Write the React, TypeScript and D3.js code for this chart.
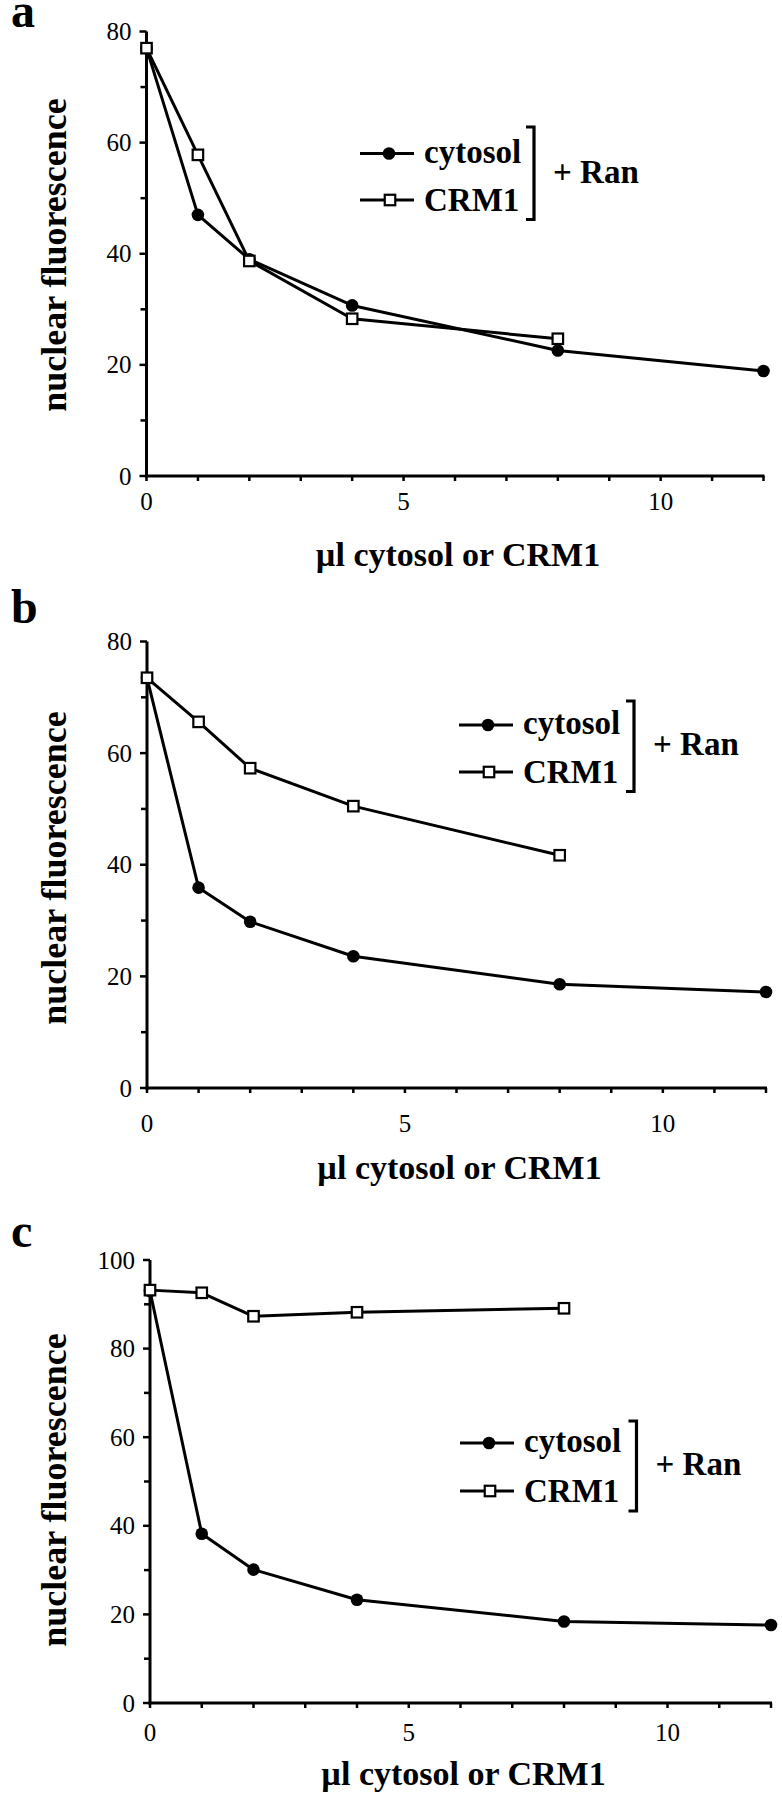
import React from "react";
import * as d3 from "d3";

// ---------- data ----------
const doses = [0, 1, 2, 4, 8, 12];
const crmDoses = [0, 1, 2, 4, 8];

const aCytosol = [77, 47, 39, 30.7, 22.6, 18.9];
const aCRM1 = [77, 57.8, 38.7, 28.3, 24.7];

const bCytosol = [73.5, 35.9, 29.8, 23.6, 18.6, 17.2];
const bCRM1 = [73.5, 65.6, 57.3, 50.5, 41.7];

const cCytosol = [93, 38.2, 30.1, 23.3, 18.4, 17.6];
const cCRM1 = [93.2, 92.6, 87.3, 88.2, 89.1];

const xTickLabels = [0, 5, 10];
const yTicksAB = [0, 20, 40, 60, 80];
const yTicksC = [0, 20, 40, 60, 80, 100];

const panelLetters = ["a", "b", "c"];
const yTitle = "nuclear fluorescence";
const xTitle = "\u00b5l cytosol or CRM1";
const legendNames = ["cytosol", "CRM1"];
const bracketLabel = "+ Ran";

type PanelCfg = {
  letter: string;
  letterY: number;
  cyt: number[];
  crm: number[];
  yMax: number;
  yTicks: number[];
  x0: number;
  x1: number;
  yBottom: number;
  yTop: number;
  tickLabelY: number;
  titleY: number;
  yTitleCenter: number;
  legX: number;
  legY1: number;
  legY2: number;
  bracketX: number;
  bracketTop: number;
  bracketBottom: number;
  ranY: number;
};

const panels: PanelCfg[] = [
  {
    letter: panelLetters[0], letterY: 27, cyt: aCytosol, crm: aCRM1, yMax: 80, yTicks: yTicksAB,
    x0: 146.5, x1: 763.5, yBottom: 476, yTop: 31.5, tickLabelY: 510, titleY: 566, yTitleCenter: 255,
    legX: 360, legY1: 153.5, legY2: 200, bracketX: 534, bracketTop: 127, bracketBottom: 219.5, ranY: 183,
  },
  {
    letter: panelLetters[1], letterY: 623, cyt: bCytosol, crm: bCRM1, yMax: 80, yTicks: yTicksAB,
    x0: 147, x1: 766, yBottom: 1088, yTop: 641.5, tickLabelY: 1132, titleY: 1179, yTitleCenter: 868,
    legX: 459, legY1: 725, legY2: 772, bracketX: 634, bracketTop: 701, bracketBottom: 791.5, ranY: 755,
  },
  {
    letter: panelLetters[2], letterY: 1247, cyt: cCytosol, crm: cCRM1, yMax: 100, yTicks: yTicksC,
    x0: 150, x1: 771, yBottom: 1703, yTop: 1260, tickLabelY: 1741, titleY: 1785, yTitleCenter: 1490,
    legX: 460, legY1: 1443, legY2: 1491, bracketX: 636.5, bracketTop: 1421, bracketBottom: 1511, ranY: 1475,
  },
];

const FONT = "'Liberation Serif', 'Times New Roman', Times, serif";

function Panel({ p }: { p: PanelCfg }) {
  const x = d3.scaleLinear().domain([0, 12]).range([p.x0, p.x1]);
  const y = d3.scaleLinear().domain([0, p.yMax]).range([p.yBottom, p.yTop]);
  const line = d3
    .line<[number, number]>()
    .x((d) => x(d[0]))
    .y((d) => y(d[1]));
  const cytPts: [number, number][] = doses.map((d, i) => [d, p.cyt[i]]);
  const crmPts: [number, number][] = crmDoses.map((d, i) => [d, p.crm[i]]);
  const minor = d3.range(10, p.yMax, 20);
  const xTicks = d3.range(0, 13, 1);
  const sq = 10.5;
  return (
    <g>
      <text x={11} y={p.letterY} fontFamily={FONT} fontWeight="bold" fontSize={48}>
        {p.letter}
      </text>
      {/* axes */}
      <line x1={x(0)} x2={x(0)} y1={y(0) + 1.5} y2={y(p.yMax)} stroke="#000" strokeWidth={3} />
      <line x1={x(0) - 1.5} x2={x(12) + 1} y1={y(0)} y2={y(0)} stroke="#000" strokeWidth={3} />
      {p.yTicks.map((t) => (
        <g key={"yt" + t}>
          <line x1={x(0) - 7} x2={x(0)} y1={y(t)} y2={y(t)} stroke="#000" strokeWidth={2.5} />
          <text x={x(0) - 15} y={y(t) + 8.5} textAnchor="end" fontFamily={FONT} fontSize={25}>
            {t}
          </text>
        </g>
      ))}
      {minor.map((t) => (
        <line key={"ym" + t} x1={x(0) - 6} x2={x(0)} y1={y(t)} y2={y(t)} stroke="#000" strokeWidth={2.5} />
      ))}
      {xTicks.map((t) => (
        <line key={"xt" + t} x1={x(t)} x2={x(t)} y1={y(0)} y2={y(0) + 5} stroke="#000" strokeWidth={2.5} />
      ))}
      {xTickLabels.map((t) => (
        <text key={"xl" + t} x={x(t)} y={p.tickLabelY} textAnchor="middle" fontFamily={FONT} fontSize={25}>
          {t}
        </text>
      ))}
      <text
        x={(p.x0 + p.x1) / 2 + 3}
        y={p.titleY}
        textAnchor="middle"
        fontFamily={FONT}
        fontWeight="bold"
        fontSize={34}
      >
        {xTitle}
      </text>
      <text
        transform={`translate(${66},${p.yTitleCenter}) rotate(-90)`}
        textAnchor="middle"
        fontFamily={FONT}
        fontWeight="bold"
        fontSize={36}
      >
        {yTitle}
      </text>
      {/* data */}
      <path d={line(cytPts) || ""} fill="none" stroke="#000" strokeWidth={3} strokeLinejoin="round" />
      <path d={line(crmPts) || ""} fill="none" stroke="#000" strokeWidth={3} strokeLinejoin="round" />
      {cytPts.map((d, i) => (
        <circle key={"c" + i} cx={x(d[0])} cy={y(d[1])} r={6.3} fill="#000" />
      ))}
      {crmPts.map((d, i) => (
        <rect
          key={"s" + i}
          x={x(d[0]) - sq / 2}
          y={y(d[1]) - sq / 2}
          width={sq}
          height={sq}
          fill="#fff"
          stroke="#000"
          strokeWidth={2.2}
        />
      ))}
      {/* legend */}
      <line x1={p.legX} x2={p.legX + 54} y1={p.legY1} y2={p.legY1} stroke="#000" strokeWidth={3} />
      <circle cx={p.legX + 29} cy={p.legY1} r={6.3} fill="#000" />
      <text x={p.legX + 64} y={p.legY1 + 9} fontFamily={FONT} fontWeight="bold" fontSize={33}>
        {legendNames[0]}
      </text>
      <line x1={p.legX} x2={p.legX + 54} y1={p.legY2} y2={p.legY2} stroke="#000" strokeWidth={3} />
      <rect
        x={p.legX + 30 - sq / 2}
        y={p.legY2 - sq / 2}
        width={sq}
        height={sq}
        fill="#fff"
        stroke="#000"
        strokeWidth={2.2}
      />
      <text x={p.legX + 64} y={p.legY2 + 11} fontFamily={FONT} fontWeight="bold" fontSize={33}>
        {legendNames[1]}
      </text>
      <path
        d={`M${p.bracketX - 8},${p.bracketTop} H${p.bracketX} V${p.bracketBottom} H${p.bracketX - 8}`}
        fill="none"
        stroke="#000"
        strokeWidth={3.2}
      />
      <text x={p.bracketX + 19} y={p.ranY} fontFamily={FONT} fontWeight="bold" fontSize={33}>
        {bracketLabel}
      </text>
    </g>
  );
}

export default function App() {
  return (
    <svg
      width={782}
      height={1800}
      viewBox="0 0 782 1800"
      style={{ position: "absolute", left: 0, top: 0, background: "#fff" }}
    >
      <rect x={0} y={0} width={782} height={1800} fill="#fff" />
      {panels.map((p) => (
        <Panel key={p.letter} p={p} />
      ))}
    </svg>
  );
}
